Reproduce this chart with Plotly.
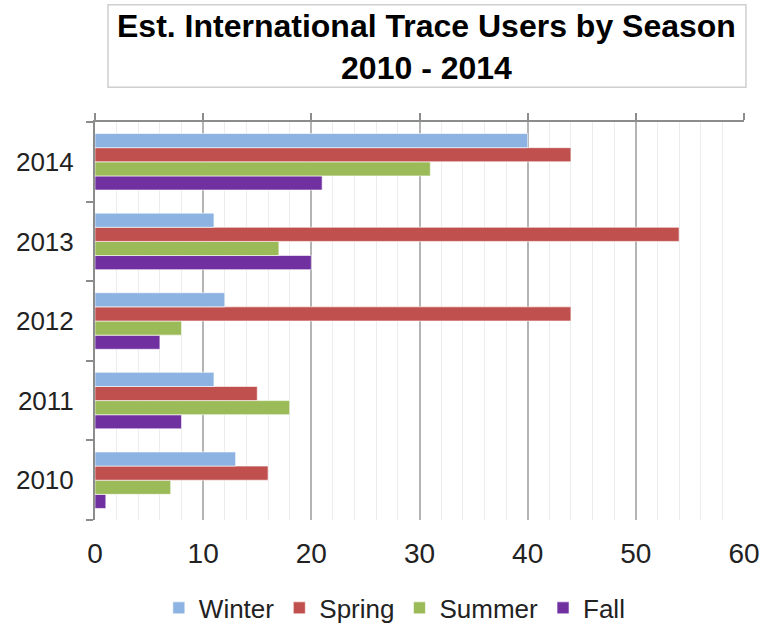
import plotly.graph_objects as go

years = ["2010", "2011", "2012", "2013", "2014"]
seasons = ["Winter", "Spring", "Summer", "Fall"]
winter = [13, 11, 12, 11, 40]
spring = [16, 15, 44, 54, 44]
summer = [7, 18, 8, 17, 31]
fall = [1, 8, 6, 20, 21]
colors = {"Winter": "#8DB3E2", "Spring": "#C0504D", "Summer": "#9BBB59", "Fall": "#7030A0"}
values = {"Winter": winter, "Spring": spring, "Summer": summer, "Fall": fall}
x_ticks = [0, 10, 20, 30, 40, 50, 60]

FONT = "Liberation Sans, Arial, Helvetica, sans-serif"

fig = go.Figure()
for s in reversed(seasons):
    fig.add_trace(go.Bar(
        y=years, x=values[s], name=s, orientation="h",
        marker=dict(color=colors[s], line=dict(color="rgba(255,255,255,0.6)", width=1)),
    ))

fig.add_trace(go.Scatter(x=[0], y=[years[0]], xaxis="x2", mode="markers",
                         marker=dict(opacity=0), showlegend=False, hoverinfo="skip"))

fig.update_layout(
    width=776, height=627,
    margin=dict(l=95, r=32, t=122, b=107, autoexpand=False),
    paper_bgcolor="white", plot_bgcolor="white",
    barmode="group", bargap=0.29, bargroupgap=0,
    font=dict(family=FONT, color="#222"),
    showlegend=True,
    legend=dict(orientation="h", x=0.462, xanchor="center", y=-0.221, yanchor="middle",
                traceorder="reversed", font=dict(size=26, color="#222"),
                itemwidth=30),
    xaxis=dict(range=[0, 60], tickvals=x_ticks, ticktext=[str(v) for v in x_ticks],
               showgrid=True, gridcolor="#b4b4b4", gridwidth=2,
               minor=dict(dtick=2, showgrid=True, gridcolor="#ececec", gridwidth=1),
               showline=False, zeroline=False, ticks="", automargin=False,
               ticklabelstandoff=14,
               tickfont=dict(size=28, color="#222")),
    xaxis2=dict(range=[0, 60], overlaying="x", side="top", tickvals=x_ticks,
                showticklabels=False, showgrid=False, zeroline=False, automargin=False,
                showline=True, linecolor="#8c8c8c", linewidth=2,
                ticks="outside", ticklen=7, tickwidth=2, tickcolor="#8c8c8c"),
    yaxis=dict(type="category", categoryorder="array", categoryarray=years,
               showline=True, linecolor="#8c8c8c", linewidth=2, automargin=False,
               ticks="outside", tickson="boundaries", ticklen=7, tickwidth=2,
               tickcolor="#8c8c8c", showgrid=False, zeroline=False,
               tickfont=dict(size=26, color="#222"), ticklabelstandoff=14),
)

fig.add_shape(type="rect", xref="paper", yref="paper",
              x0=0.02, x1=1.003, y0=1.087, y1=1.2947,
              line=dict(color="#cfcfcf", width=1.5), fillcolor="white")
fig.add_annotation(xref="paper", yref="paper", x=0.511, y=1.188, xanchor="center", yanchor="middle",
                   text="<b>Est. International Trace Users by Season<br>2010 - 2014</b>",
                   showarrow=False, font=dict(size=32, color="black", family=FONT))

fig.write_html("out.html", config={"displayModeBar": False},
               post_script="document.body.style.margin='0';document.body.style.overflow='hidden';")
